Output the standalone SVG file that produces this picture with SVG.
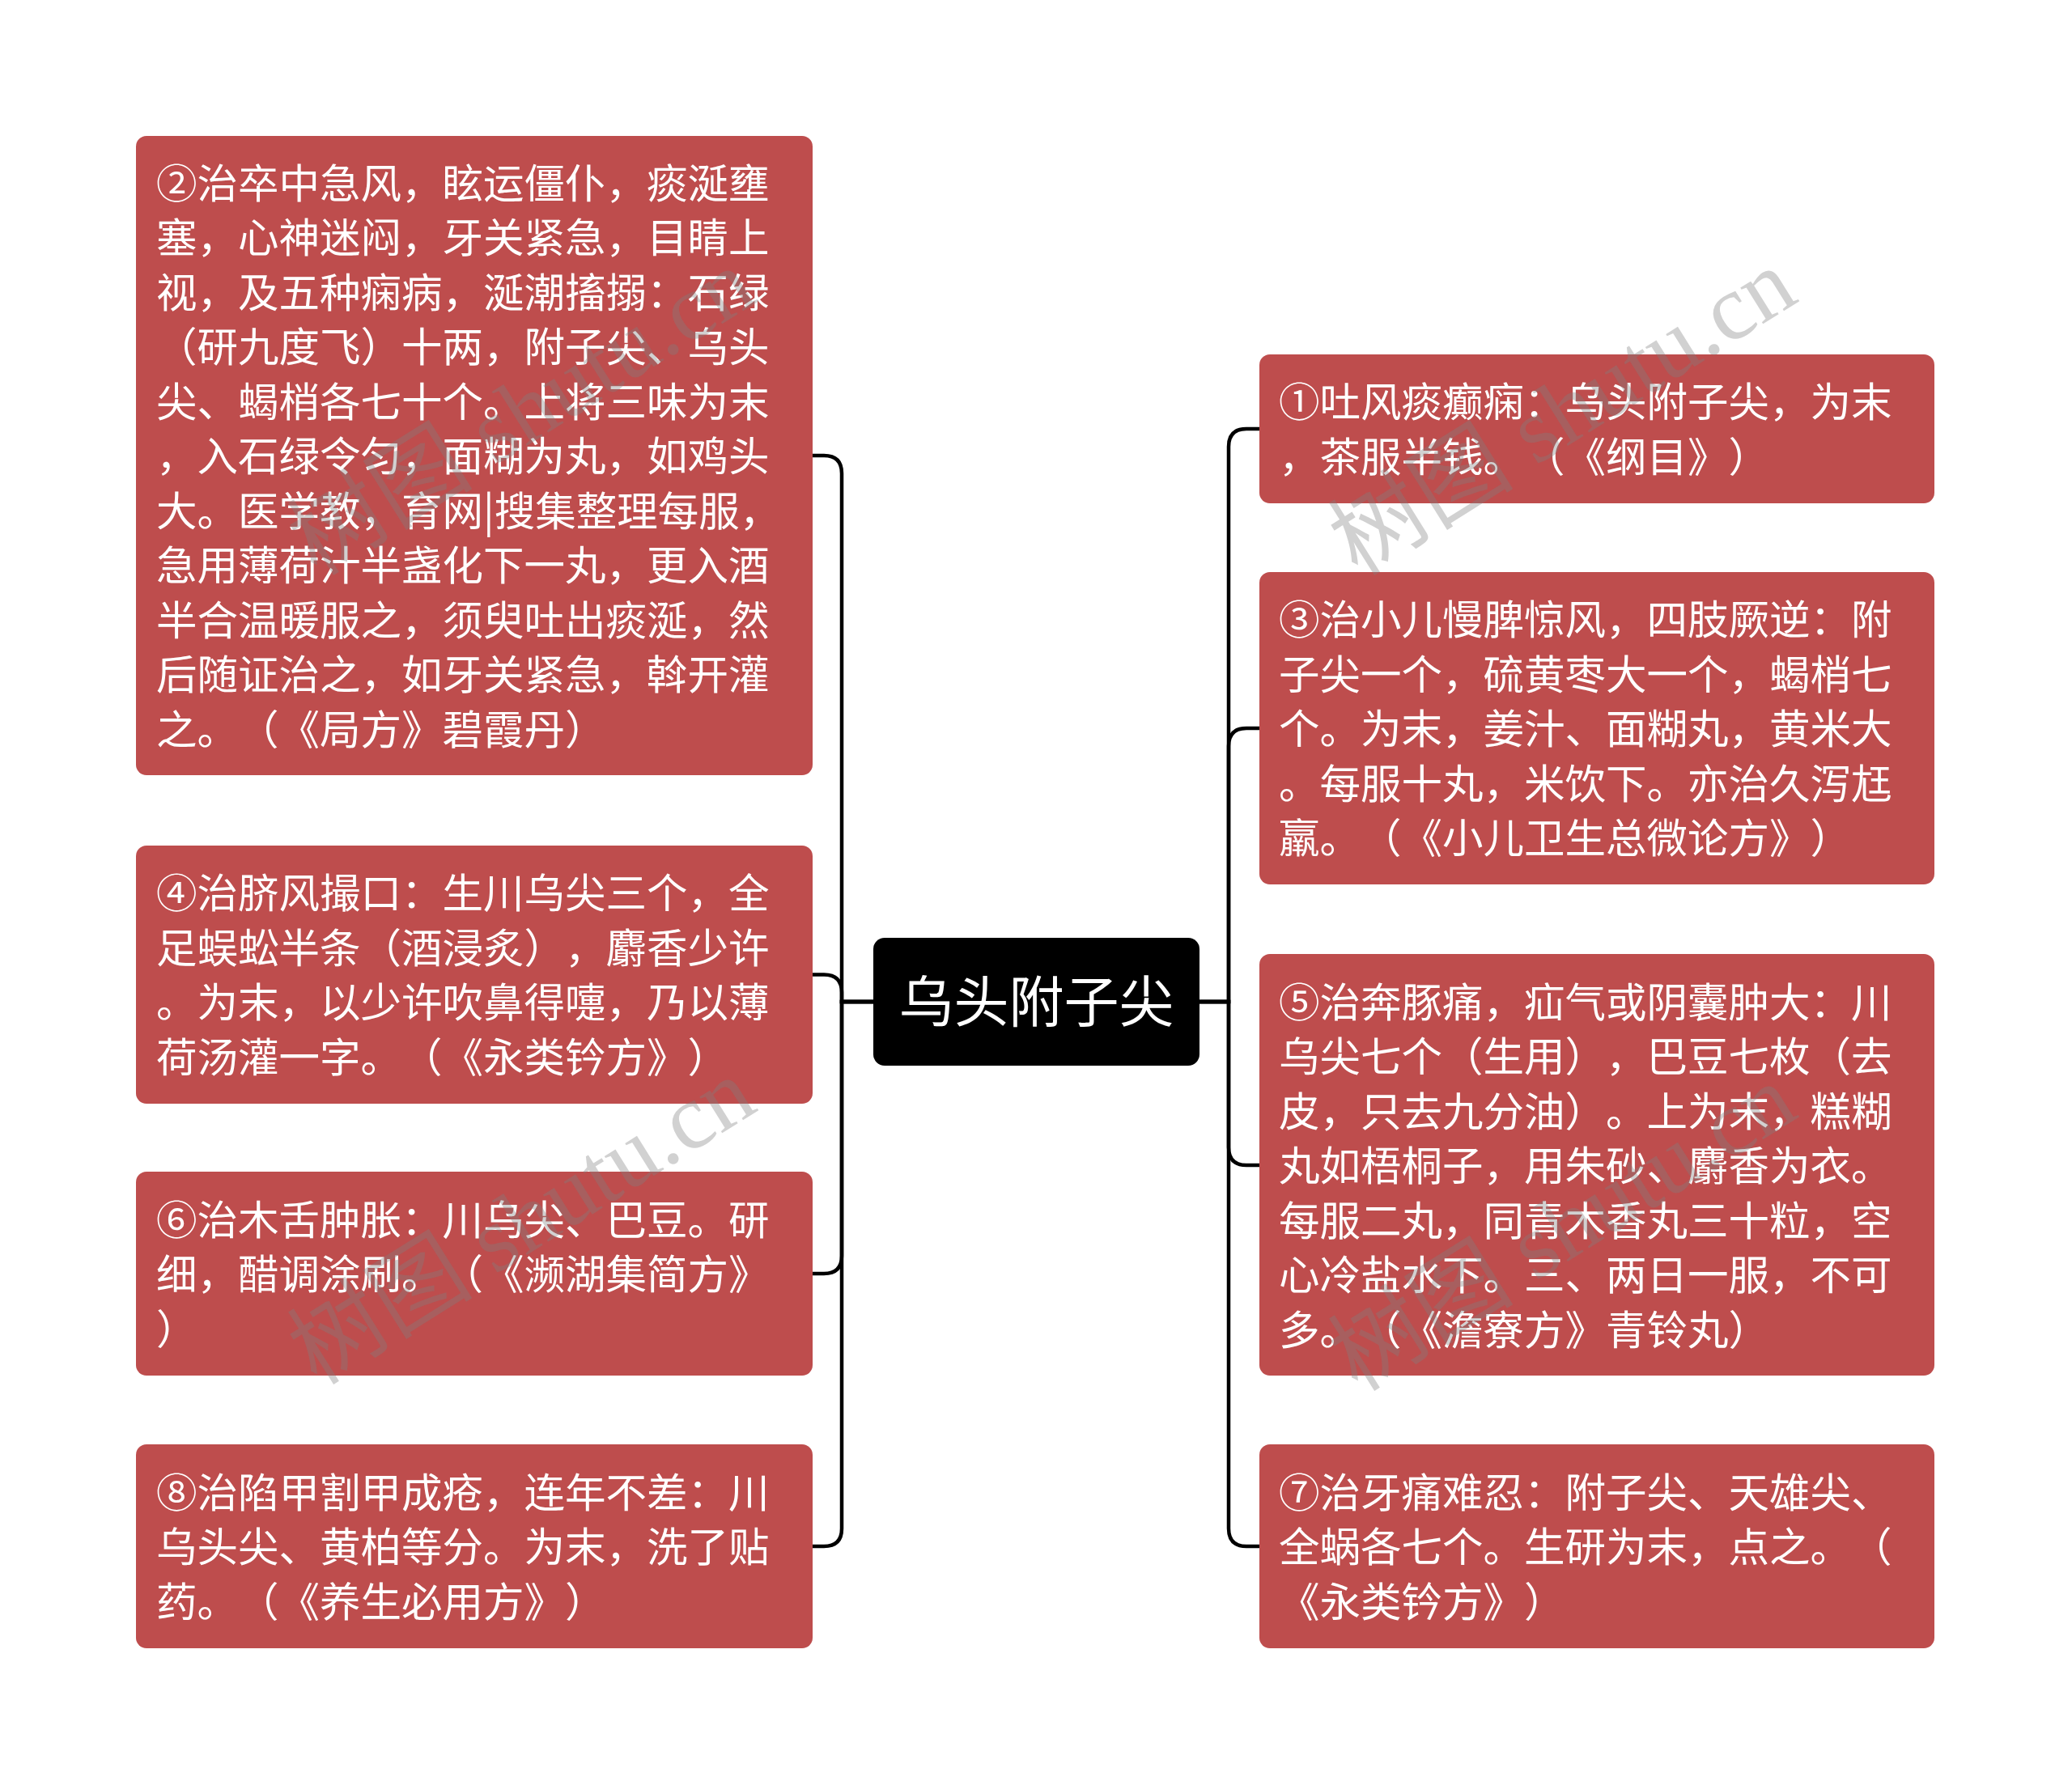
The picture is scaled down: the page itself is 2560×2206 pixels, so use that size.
<svg xmlns="http://www.w3.org/2000/svg" width="2560" height="2206" viewBox="0 0 2560 2206">
<style>
text{text-spacing-trim:space-all;font-kerning:none}
.node rect{fill:#BE4D4D}
.node text{fill:#FFFFFF;font-family:"Noto Sans CJK SC","Noto Sans",sans-serif;font-size:50.5px}
.root rect{fill:#000000}
.root text{fill:#FFFFFF;font-family:"Noto Sans CJK SC","Noto Sans",sans-serif;font-size:68px}
.links path{fill:none;stroke:#000000;stroke-width:4.5}
.wm text{fill:#808080;fill-opacity:0.36;font-family:"Liberation Serif","Noto Sans CJK SC",serif;font-size:115px}
</style>
<rect x="0" y="0" width="2560" height="2206" fill="#FFFFFF"/>
<g id="connectors" class="links">
<path d="M1079,1238 H1040 V585 Q1040,563 1018,563 H1004"/>
<path d="M1079,1238 H1040 V1226.5 Q1040,1204.5 1018,1204.5 H1004"/>
<path d="M1079,1238 H1040 V1552 Q1040,1574 1018,1574 H1004"/>
<path d="M1079,1238 H1040 V1889 Q1040,1911 1018,1911 H1004"/>
<path d="M1481,1238 H1518 V552 Q1518,530 1540,530 H1556"/>
<path d="M1481,1238 H1518 V922 Q1518,900 1540,900 H1556"/>
<path d="M1481,1238 H1518 V1418 Q1518,1440 1540,1440 H1556"/>
<path d="M1481,1238 H1518 V1889 Q1518,1911 1540,1911 H1556"/>
</g>
<g id="root" class="root">
<rect x="1079" y="1159" width="403" height="158" rx="14"/>
<text x="1280.5" y="1263" text-anchor="middle">乌头附子尖</text>
</g>
<g id="node2" class="node">
<rect x="168" y="168" width="836" height="790" rx="13"/>
<text x="193" y="244.5"><tspan x="193">②治卒中急风，眩运僵仆，痰涎壅</tspan><tspan x="193" dy="67.5">塞，心神迷闷，牙关紧急，目睛上</tspan><tspan x="193" dy="67.5">视，及五种痫病，涎潮搐搦：石绿</tspan><tspan x="193" dy="67.5">（研九度飞）十两，附子尖、乌头</tspan><tspan x="193" dy="67.5">尖、蝎梢各七十个。上将三味为末</tspan><tspan x="193" dy="67.5">，入石绿令匀，面糊为丸，如鸡头</tspan><tspan x="193" dy="67.5">大。医学教，育网|搜集整理每服，</tspan><tspan x="193" dy="67.5">急用薄荷汁半盏化下一丸，更入酒</tspan><tspan x="193" dy="67.5">半合温暖服之，须臾吐出痰涎，然</tspan><tspan x="193" dy="67.5">后随证治之，如牙关紧急，斡开灌</tspan><tspan x="193" dy="67.5">之。（《局方》碧霞丹）</tspan></text>
</g>
<g id="node4" class="node">
<rect x="168" y="1045" width="836" height="319" rx="13"/>
<text x="193" y="1122"><tspan x="193">④治脐风撮口：生川乌尖三个，全</tspan><tspan x="193" dy="67.5">足蜈蚣半条（酒浸炙），麝香少许</tspan><tspan x="193" dy="67.5">。为末，以少许吹鼻得嚏，乃以薄</tspan><tspan x="193" dy="67.5">荷汤灌一字。（《永类钤方》）</tspan></text>
</g>
<g id="node6" class="node">
<rect x="168" y="1448" width="836" height="252" rx="13"/>
<text x="193" y="1525.5"><tspan x="193">⑥治木舌肿胀：川乌尖、巴豆。研</tspan><tspan x="193" dy="67.5">细，醋调涂刷。（《濒湖集简方》</tspan><tspan x="193" dy="67.5">）</tspan></text>
</g>
<g id="node8" class="node">
<rect x="168" y="1785" width="836" height="252" rx="13"/>
<text x="193" y="1862.5"><tspan x="193">⑧治陷甲割甲成疮，连年不差：川</tspan><tspan x="193" dy="67.5">乌头尖、黄柏等分。为末，洗了贴</tspan><tspan x="193" dy="67.5">药。（《养生必用方》）</tspan></text>
</g>
<g id="node1" class="node">
<rect x="1556" y="438" width="834" height="184" rx="13"/>
<text x="1580" y="515"><tspan x="1580">①吐风痰癫痫：乌头附子尖，为末</tspan><tspan x="1580" dy="67.5">，茶服半钱。（《纲目》）</tspan></text>
</g>
<g id="node3" class="node">
<rect x="1556" y="707" width="834" height="386" rx="13"/>
<text x="1580" y="784"><tspan x="1580">③治小儿慢脾惊风，四肢厥逆：附</tspan><tspan x="1580" dy="67.5">子尖一个，硫黄枣大一个，蝎梢七</tspan><tspan x="1580" dy="67.5">个。为末，姜汁、面糊丸，黄米大</tspan><tspan x="1580" dy="67.5">。每服十丸，米饮下。亦治久泻尪</tspan><tspan x="1580" dy="67.5">羸。（《小儿卫生总微论方》）</tspan></text>
</g>
<g id="node5" class="node">
<rect x="1556" y="1179" width="834" height="521" rx="13"/>
<text x="1580" y="1256.5"><tspan x="1580">⑤治奔豚痛，疝气或阴囊肿大：川</tspan><tspan x="1580" dy="67.5">乌尖七个（生用），巴豆七枚（去</tspan><tspan x="1580" dy="67.5">皮，只去九分油）。上为末，糕糊</tspan><tspan x="1580" dy="67.5">丸如梧桐子，用朱砂、麝香为衣。</tspan><tspan x="1580" dy="67.5">每服二丸，同青木香丸三十粒，空</tspan><tspan x="1580" dy="67.5">心冷盐水下。三、两日一服，不可</tspan><tspan x="1580" dy="67.5">多。（《澹寮方》青铃丸）</tspan></text>
</g>
<g id="node7" class="node">
<rect x="1556" y="1785" width="834" height="252" rx="13"/>
<text x="1580" y="1862.5"><tspan x="1580">⑦治牙痛难忍：附子尖、天雄尖、</tspan><tspan x="1580" dy="67.5">全蜗各七个。生研为末，点之。（</tspan><tspan x="1580" dy="67.5">《永类钤方》）</tspan></text>
</g>
<g id="watermark" class="wm">
<text x="645" y="548" text-anchor="middle" transform="rotate(-32 645 510)">树图 shutu.cn</text>
<text x="1931" y="548" text-anchor="middle" transform="rotate(-32 1931 510)">树图 shutu.cn</text>
<text x="645" y="1548" text-anchor="middle" transform="rotate(-32 645 1510)">树图 shutu.cn</text>
<text x="1931" y="1556" text-anchor="middle" transform="rotate(-32 1931 1518)">树图 shutu.cn</text>
</g>
</svg>
